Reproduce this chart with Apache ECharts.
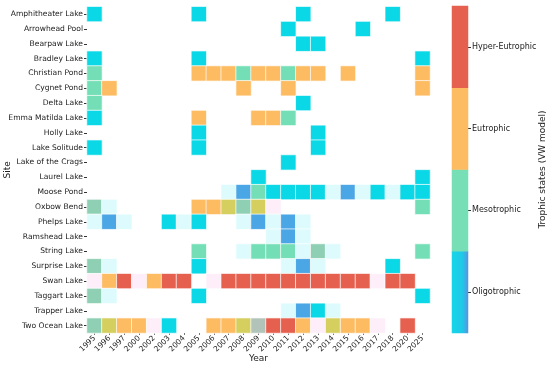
<!DOCTYPE html>
<html>
<head>
<meta charset="utf-8">
<script src="https://cdn.jsdelivr.net/npm/echarts@6/dist/echarts.min.js"></script>
<style>
html,body{margin:0;padding:0;background:#fff;}
#chart{width:550px;height:367px;}
</style>
</head>
<body>
<div id="chart"></div>
<script>
// ---- data ----
const years = ['1995','1996','1997','2000','2002','2003','2004','2005','2006','2007','2008','2009','2010','2011','2012','2013','2014','2015','2016','2017','2018','2020','2025'];
const sites = ['Amphitheater Lake','Arrowhead Pool','Bearpaw Lake','Bradley Lake','Christian Pond','Cygnet Pond','Delta Lake','Emma Matilda Lake','Holly Lake','Lake Solitude','Lake of the Crags','Laurel Lake','Moose Pond','Oxbow Bend','Phelps Lake','Ramshead Lake','String Lake','Surprise Lake','Swan Lake','Taggart Lake','Trapper Lake','Two Ocean Lake'];
// one code per year column: O oligo, B oligo (bluish), M meso, G meso (greyish), g grey mix,
// E eutrophic, Y eutrophic (yellowish), H hyper-eutrophic, c/p faint halo, . no sample
const siteStates = [
  'O......O......O.....O..',
  '.............O....O....',
  '..............OO.......',
  'O......O..............O',
  'M......EEEMEEMEE.E....E',
  'ME........E..E........E',
  'M.............O........',
  'O......E...EEM.........',
  '.......O.......O.......',
  'O......O.......O.......',
  '.............O.........',
  '...........O..........O',
  '.........cBMOOOOcBcOcOO',
  'Gc.....EEYGYp.........M',
  'cBc..OcO..cBcBc........',
  '............cBc........',
  '.......M..cMMMcGc.....M',
  'Gc.....O.....cBc....O..',
  'pEHpEHH.pHHHHHHHHHHpHH.',
  'Gc.....O..............O',
  '.............cBOc......',
  'GYEEpO..EEYgHHEpYEEp.H.'
];
const stateNames = ['Oligotrophic','Mesotrophic','Eutrophic','Hyper-Eutrophic'];

// ---- styles ----
const palette = {
  O:'#0ad8e6', B:'#4ba6e6', M:'#74dfb6', G:'#8fd0b4', g:'#b2c4ba',
  E:'#fdbb62', Y:'#d4cf5e', H:'#e6604f', c:'#ddfbfc', p:'#fdeefa'
};
const codeLevel = {O:0, B:0, c:0, M:1, G:1, g:1, E:2, Y:2, H:3, p:3};
const barColors = [
  new echarts.graphic.LinearGradient(0,0,1,0,[{offset:0,color:'#16d6e8'},{offset:0.65,color:'#20c8e8'},{offset:1,color:'#5a92e2'}]),
  '#76dfb6','#fdbb62','#e6604f'
];
const font = 'DejaVu Sans';

const cells = [];
siteStates.forEach((row, r) => {
  row.split('').forEach((code, c) => {
    if (code === '.') return;
    cells.push({value:[c, r, codeLevel[code]], itemStyle:{color: palette[code]}});
  });
});
const barCells = stateNames.map((n, i) => ({value:[0, i, i], itemStyle:{color: barColors[i]}}));

const chart = echarts.init(document.getElementById('chart'), null, {renderer:'canvas'});
chart.setOption({
  animation:false,
  textStyle:{fontFamily:font},
  grid:[
    {left:87, top:6.7, width:343, height:326.3, containLabel:false, outerBoundsMode:'none'},
    {left:452, top:6, width:16, height:327, containLabel:false, outerBoundsMode:'none'}
  ],
  xAxis:[
    {type:'category', data:years, gridIndex:0,
     name:'Year', nameLocation:'middle', nameGap:21, nameMoveOverlap:false,
     nameTextStyle:{fontSize:9, color:'#222', fontFamily:font},
     axisLine:{show:false}, splitLine:{show:false},
     axisTick:{show:true, alignWithLabel:true, length:2, lineStyle:{color:'#777'}},
     axisLabel:{rotate:45, fontSize:7.5, color:'#222', margin:4, fontFamily:font, interval:0}},
    {type:'category', data:[''], gridIndex:1, show:false}
  ],
  yAxis:[
    {type:'category', data:sites, gridIndex:0, inverse:true,
     name:'Site', nameLocation:'middle', nameGap:75, nameRotate:90, nameMoveOverlap:false,
     nameTextStyle:{fontSize:9, color:'#222', fontFamily:font},
     axisLine:{show:false}, splitLine:{show:false},
     axisTick:{show:true, alignWithLabel:true, length:3, lineStyle:{color:'#333'}},
     axisLabel:{fontSize:7.6, color:'#222', margin:4, fontFamily:font, interval:0}},
    {type:'category', data:stateNames, gridIndex:1, position:'right',
     name:'Trophic states (VW model)', nameLocation:'middle', nameGap:70, nameRotate:90, nameMoveOverlap:false,
     nameTextStyle:{fontSize:9, color:'#222', fontFamily:font},
     axisLine:{show:false}, splitLine:{show:false},
     axisTick:{show:true, alignWithLabel:true, length:3, lineStyle:{color:'#333'}},
     axisLabel:{fontSize:8, color:'#222', margin:4, fontFamily:font}}
  ],
  series:[
    {type:'heatmap', xAxisIndex:0, yAxisIndex:0, data:cells,
     itemStyle:{borderColor:'#ffffff', borderWidth:0.7}, emphasis:{disabled:true}},
    {type:'heatmap', xAxisIndex:1, yAxisIndex:1, data:barCells,
     itemStyle:{borderWidth:0}, emphasis:{disabled:true}}
  ]
});
</script>
</body>
</html>
